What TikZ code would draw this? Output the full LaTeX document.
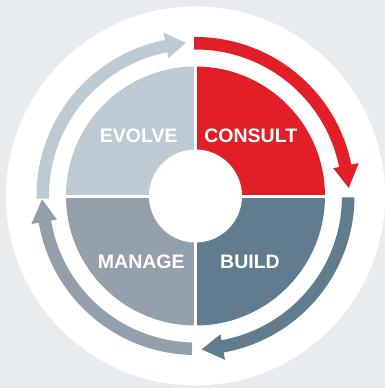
\documentclass[tikz,border=0pt]{standalone}
\usepackage{fontspec}
\setmainfont{Liberation Sans}
\definecolor{bgcol}{HTML}{E8ECEF}
\definecolor{consultcol}{HTML}{E21F26}
\definecolor{buildcol}{HTML}{627C8F}
\definecolor{managecol}{HTML}{93A0AB}
\definecolor{evolvecol}{HTML}{BDCAD3}
% #1 colour, #2 start angle, #3 head base angle, #4 tip angle
\newcommand\cyclearrow[4]{%
  \fill[#1] (#2:159) arc[start angle=#2, end angle=#3, radius=159]
    -- (#3:166.5) -- (#4:153.5) -- (#3:140.5) -- (#3:146.5)
    arc[start angle=#3, end angle=#2, radius=146.5] -- cycle;}
\tikzset{
  phase/.style={text=white, font=\bfseries\fontsize{19.5}{22}\selectfont, anchor=base, inner sep=0pt},
  gapline/.style={white, line width=3pt}
}
\begin{document}
\begin{tikzpicture}[x=1pt,y=1pt]
\useasboundingbox (-195.5,-192) rectangle (189.5,196);
\fill[bgcol] (-195.5,-192) rectangle (189.5,196);
\fill[white] (0,0) circle[radius=189.5];
% quadrants
\fill[consultcol] (0,0) -- (0:129.5) arc[start angle=0, end angle=90, radius=129.5] -- cycle;
\fill[evolvecol] (0,0) -- (90:129.5) arc[start angle=90, end angle=180, radius=129.5] -- cycle;
\fill[managecol] (0,0) -- (180:129.5) arc[start angle=180, end angle=270, radius=129.5] -- cycle;
\fill[buildcol] (0,0) -- (270:129.5) arc[start angle=270, end angle=360, radius=129.5] -- cycle;
\draw[gapline] (-131,0) -- (131,0);
\draw[gapline] (0,-131) -- (0,131);
\fill[white] (0,0) circle[radius=46.5];
% arrows
\cyclearrow{consultcol}{90.5}{11.4}{3}
\cyclearrow{buildcol}{-0.5}{-79.8}{-87.7}
\cyclearrow{managecol}{-91.3}{-170.3}{-178.8}
\cyclearrow{evolvecol}{181}{101.1}{93.6}
% labels
\node[phase] (consult) at (55.3,53.7) {CONSULT};
\node[phase] (evolve) at (-56.8,53.7) {EVOLVE};
\node[phase] (manage) at (-54.2,-72) {MANAGE};
\node[phase] (build) at (54.5,-72) {BUILD};
\end{tikzpicture}
\end{document}
